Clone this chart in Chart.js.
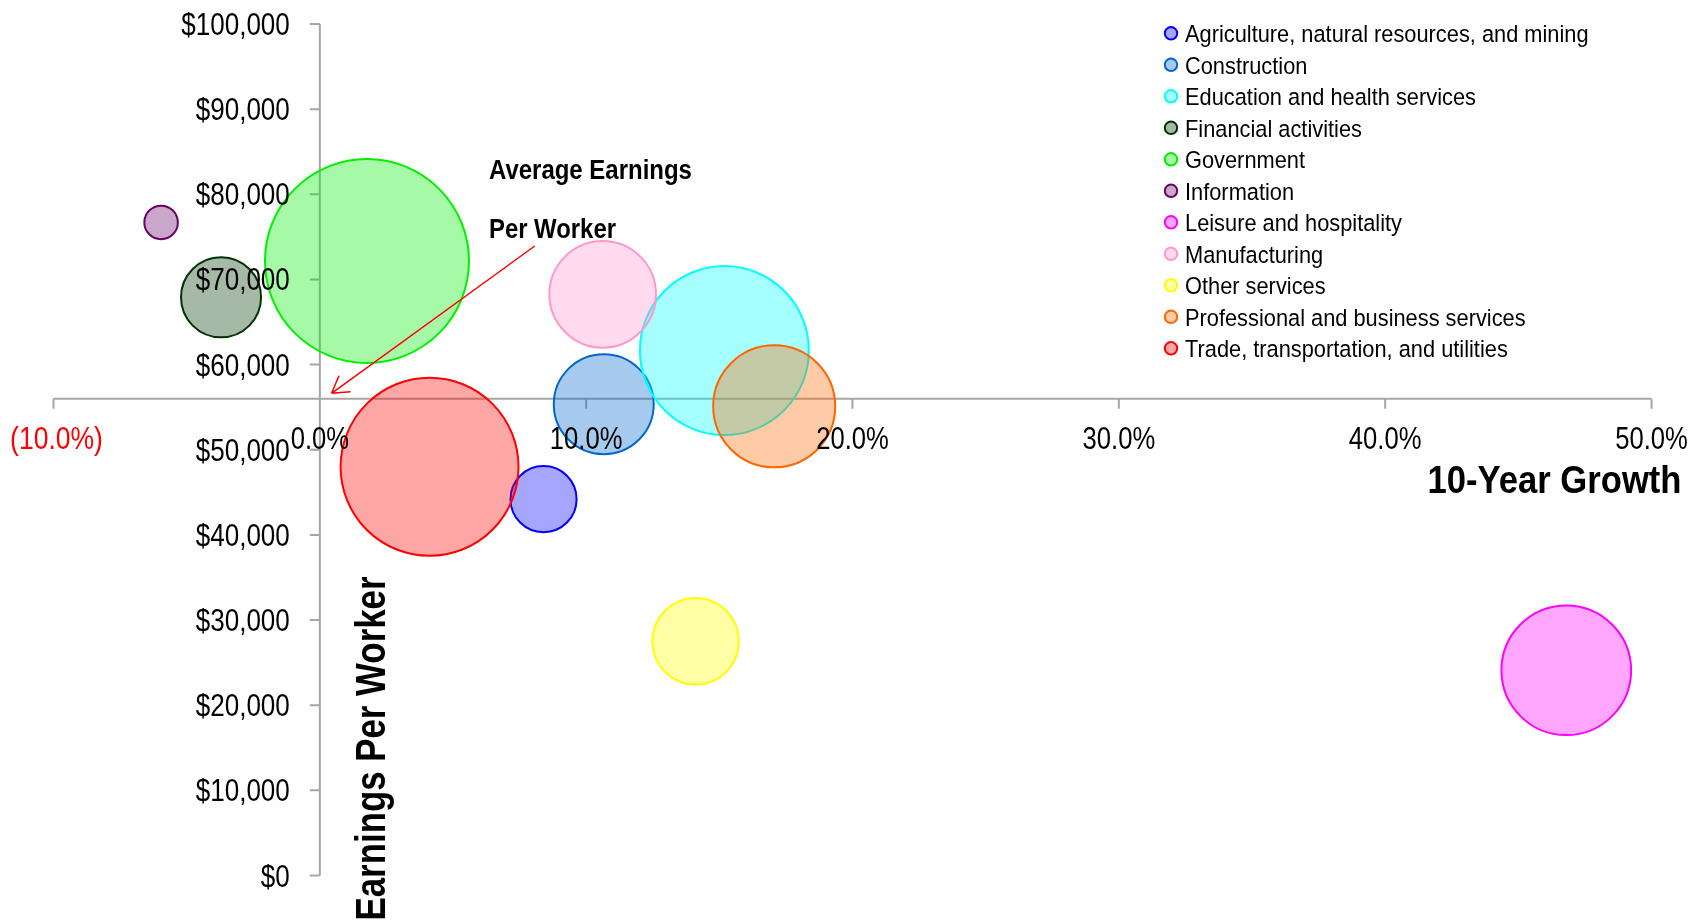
<!DOCTYPE html>
<html>
<head>
<meta charset="utf-8">
<title>Earnings per worker vs 10-year growth</title>
<script src="https://cdn.jsdelivr.net/npm/chart.js@4.4.1/dist/chart.umd.min.js"></script>
<style>
  html, body { margin: 0; padding: 0; background: #fff; }
  #wrap { position: relative; width: 1702px; height: 924px; }
</style>
</head>
<body>
<div id="wrap"><canvas id="chart" width="1702" height="924"></canvas></div>
<script>
// industries, in legend order (later ones are drawn on top)
const industries = [
  "Agriculture, natural resources, and mining",
  "Construction",
  "Education and health services",
  "Financial activities",
  "Government",
  "Information",
  "Leisure and hospitality",
  "Manufacturing",
  "Other services",
  "Professional and business services",
  "Trade, transportation, and utilities"
];
// 10-year growth, percent
const growthPct = [8.4, 10.66, 15.19, -3.71, 1.77, -5.96, 46.8, 10.62, 14.11, 17.06, 4.12];
// average earnings per worker, $
const earnings = [44200, 55350, 61650, 67900, 72170, 76700, 24100, 68250, 27500, 55100, 48000];
// bubble size (relative employment, Government = 100)
const bubbleSize = [10.5, 24.0, 68.6, 15.4, 100, 2.7, 40.4, 27.3, 18.0, 35.8, 76.1];

const seriesColors = ["#0000FF", "#0066CC", "#00FFFF", "#003300", "#00EE00", "#660066",
                      "#FF00FF", "#FF99CC", "#FFFF00", "#FF6600", "#FF0000"];

const xTickValues = [-10, 0, 10, 20, 30, 40, 50];
const xTickLabels = ["(10.0%)", "0.0%", "10.0%", "20.0%", "30.0%", "40.0%", "50.0%"];
const yTickValues = [0, 10000, 20000, 30000, 40000, 50000, 60000, 70000, 80000, 90000, 100000];
const yTickLabels = ["$0", "$10,000", "$20,000", "$30,000", "$40,000", "$50,000",
                     "$60,000", "$70,000", "$80,000", "$90,000", "$100,000"];

// horizontal axis crosses the vertical one at the average earnings
const avgEarnings = 56000;
const xTitle = "10-Year Growth";
const yTitle = "Earnings Per Worker";
const noteLines = ["Average Earnings", "Per Worker"];

const FONT = "'Liberation Sans', Arial, sans-serif";
const NARROW = 0.84;      // Arial Narrow look
const MAX_R = 102;        // radius of the largest bubble, px
const AXIS_COLOR = "#a6a6a6";

function alpha(hex, a) {
  const n = parseInt(hex.slice(1), 16);
  return `rgba(${(n >> 16) & 255}, ${(n >> 8) & 255}, ${n & 255}, ${a})`;
}

function drawText(ctx, text, x, y, o) {
  ctx.save();
  ctx.font = o.font;
  ctx.fillStyle = o.color || "#000";
  ctx.textBaseline = "alphabetic";
  ctx.textAlign = o.align || "left";
  ctx.translate(x, y);
  if (o.rotate) ctx.rotate(o.rotate);
  let sx = o.sx || 1;
  if (o.width) sx = o.width / ctx.measureText(text).width;
  ctx.scale(sx, 1);
  ctx.fillText(text, 0, 0);
  ctx.restore();
}

const datasets = industries.map((name, i) => ({
  label: name,
  data: [{ x: growthPct[i], y: earnings[i], r: MAX_R * Math.sqrt(bubbleSize[i] / 100) }],
  backgroundColor: alpha(seriesColors[i], 0.35),
  borderColor: seriesColors[i],
  borderWidth: 2,
  order: industries.length - i
}));

// crossing axes, drawn under the bubbles
const axesPlugin = {
  id: "crossAxes",
  beforeDatasetsDraw(chart) {
    const { ctx, scales: { x, y } } = chart;
    const x0 = x.getPixelForValue(0);
    const yA = y.getPixelForValue(avgEarnings);
    ctx.save();
    ctx.strokeStyle = AXIS_COLOR;
    ctx.lineWidth = 2;
    ctx.beginPath();
    ctx.moveTo(x0, y.getPixelForValue(yTickValues[yTickValues.length - 1]));
    ctx.lineTo(x0, y.getPixelForValue(0));
    ctx.moveTo(x.getPixelForValue(xTickValues[0]), yA);
    ctx.lineTo(x.getPixelForValue(xTickValues[xTickValues.length - 1]), yA);
    yTickValues.forEach(v => {
      const py = y.getPixelForValue(v);
      ctx.moveTo(x0 - 10, py);
      ctx.lineTo(x0, py);
    });
    xTickValues.forEach(v => {
      const px = x.getPixelForValue(v);
      ctx.moveTo(px, yA);
      ctx.lineTo(px, yA + 10);
    });
    ctx.stroke();
    ctx.restore();
  },
  afterDatasetsDraw(chart) {
    const { ctx, chartArea, scales: { x, y } } = chart;
    const x0 = x.getPixelForValue(0);
    const yA = y.getPixelForValue(avgEarnings);

    // tick labels
    const tickFont = `31px ${FONT}`;
    yTickValues.forEach((v, i) => {
      drawText(ctx, yTickLabels[i], x0 - 30, y.getPixelForValue(v) + 11, { font: tickFont, align: "right", sx: NARROW });
    });
    xTickValues.forEach((v, i) => {
      drawText(ctx, xTickLabels[i], x.getPixelForValue(v) + (v < 0 ? 3 : 0), yA + 50, {
        font: `30.5px ${FONT}`, align: "center", sx: v < 0 ? 0.87 : NARROW, color: v < 0 ? "#FF0000" : "#000"
      });
    });

    // axis titles
    drawText(ctx, xTitle, chartArea.right + 30, yA + 94, { font: `bold 38px ${FONT}`, align: "right", width: 254 });
    drawText(ctx, yTitle, x0 + 65, chartArea.bottom + 45, { font: `bold 43px ${FONT}`, rotate: -Math.PI / 2, width: 344 });

    // annotation and arrow to the axis crossing
    const nx = x.getPixelForValue(6.35);
    drawText(ctx, noteLines[0], nx, y.getPixelForValue(81800), { font: `bold 28px ${FONT}`, width: 203 });
    drawText(ctx, noteLines[1], nx, y.getPixelForValue(74870), { font: `bold 28px ${FONT}`, width: 127 });
    const sx = x.getPixelForValue(8.07), sy = y.getPixelForValue(73930);
    const tx = x.getPixelForValue(0.44), ty = y.getPixelForValue(56630);
    const ang = Math.atan2(sy - ty, sx - tx);
    ctx.save();
    ctx.strokeStyle = "#FF0000";
    ctx.lineWidth = 1.5;
    ctx.beginPath();
    ctx.moveTo(sx, sy);
    ctx.lineTo(tx, ty);
    [-0.54, 0.54].forEach(d => {
      ctx.moveTo(tx, ty);
      ctx.lineTo(tx + 19 * Math.cos(ang + d), ty + 19 * Math.sin(ang + d));
    });
    ctx.stroke();
    ctx.restore();

    // legend
    industries.forEach((name, i) => {
      const cy = 33.3 + 31.5 * i;
      ctx.save();
      ctx.beginPath();
      ctx.arc(1171, cy, 6.2, 0, Math.PI * 2);
      ctx.fillStyle = alpha(seriesColors[i], 0.35);
      ctx.fill();
      ctx.strokeStyle = seriesColors[i];
      ctx.lineWidth = 2;
      ctx.stroke();
      ctx.restore();
      drawText(ctx, name, 1185, cy + 8.8, { font: `24.5px ${FONT}`, sx: 0.89 });
    });
  }
};

new Chart(document.getElementById("chart"), {
  type: "bubble",
  data: { datasets },
  options: {
    responsive: false,
    animation: false,
    events: [],
    layout: { autoPadding: false, padding: { left: 53.5, right: 50.5, top: 24, bottom: 48.5 } },
    scales: {
      x: { type: "linear", min: xTickValues[0], max: xTickValues[xTickValues.length - 1], display: false },
      y: { type: "linear", min: 0, max: yTickValues[yTickValues.length - 1], display: false }
    },
    plugins: {
      legend: { display: false },
      tooltip: { enabled: false }
    }
  },
  plugins: [axesPlugin]
});
</script>
</body>
</html>
